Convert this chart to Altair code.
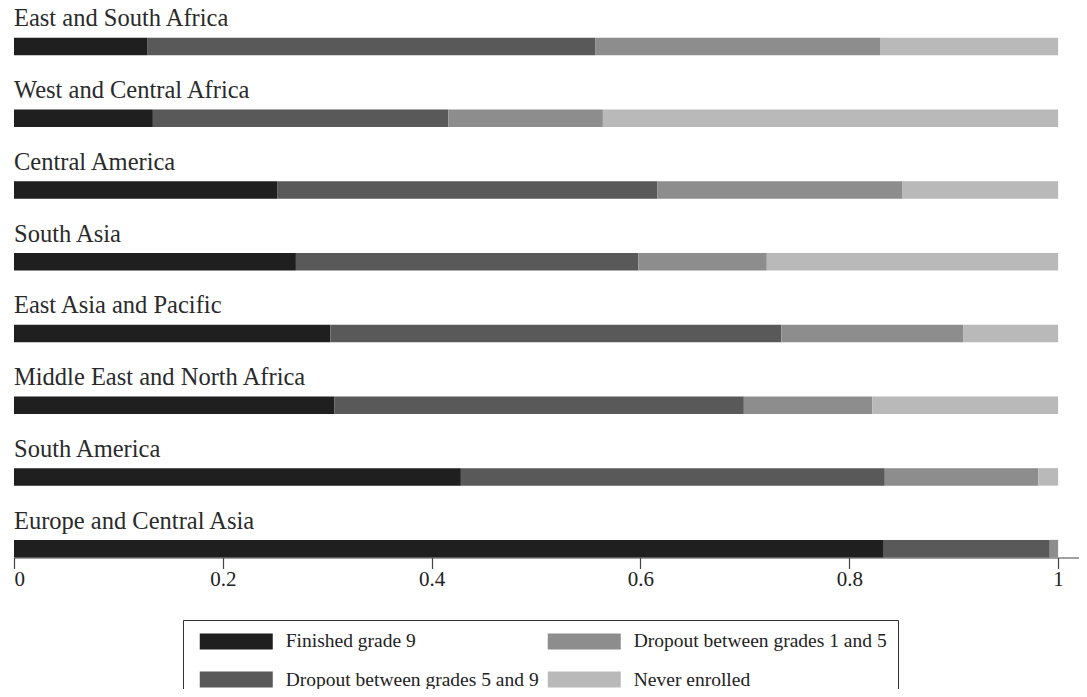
import altair as alt
import pandas as pd

regions = [
    "East and South Africa",
    "West and Central Africa",
    "Central America",
    "South Asia",
    "East Asia and Pacific",
    "Middle East and North Africa",
    "South America",
    "Europe and Central Asia",
]
finished_grade9 = [0.128, 0.133, 0.252, 0.270, 0.303, 0.307, 0.428, 0.833]
dropout_5_9 = [0.429, 0.283, 0.364, 0.328, 0.432, 0.392, 0.406, 0.159]
dropout_1_5 = [0.273, 0.148, 0.235, 0.123, 0.174, 0.123, 0.147, 0.008]
never_enrolled = [0.170, 0.436, 0.149, 0.279, 0.091, 0.178, 0.019, 0.000]

# stacking order (left to right); legend fills column by column in this order
categories = [
    "Finished grade 9",
    "Dropout between grades 5 and 9",
    "Dropout between grades 1 and 5",
    "Never enrolled",
]
colors = ["#1f1f1f", "#595959", "#8d8d8d", "#b9b9b9"]
tick_values = [0, 0.2, 0.4, 0.6, 0.8, 1]

series = [finished_grade9, dropout_5_9, dropout_1_5, never_enrolled]
rows = []
for ci, (cat, vals) in enumerate(zip(categories, series)):
    for r, v in zip(regions, vals):
        rows.append({"region": r, "category": cat, "share": v, "ord": ci})
df = pd.DataFrame(rows)
labels_df = pd.DataFrame({"region": regions})

FONT = "Liberation Serif"

band = alt.Scale(paddingInner=0, paddingOuter=0)

bars = alt.Chart(df).mark_bar(size=17.5).encode(
    x=alt.X(
        "share:Q",
        stack="zero",
        scale=alt.Scale(domain=[0, 1.02], nice=False, zero=True),
        axis=alt.Axis(
            values=tick_values,
            format="~g",
            title=None,
            grid=False,
            offset=-27,
            tickSize=11,
            labelPadding=0,
            labelFont=FONT,
            labelFontSize=21,
            labelColor="#222222",
            domainColor="#444444",
            tickColor="#444444",
            domainWidth=1.2,
            tickWidth=1.2,
        ),
    ),
    y=alt.Y("region:N", sort=regions, axis=None, scale=band),
    color=alt.Color(
        "category:N",
        scale=alt.Scale(domain=categories, range=colors),
        legend=alt.Legend(
            title=None,
            orient="none",
            legendX=169,
            legendY=609.5,
            columns=2,
            columnPadding=3,
            rowPadding=17.5,
            padding=11.25,
            symbolType="M-0.53,-1H8.595V1H-0.53Z",
            symbolSize=256,
            symbolStrokeWidth=0,
            symbolOpacity=1,
            labelOffset=72,
            labelFont=FONT,
            labelFontSize=19.5,
            labelColor="#222222",
            labelLimit=400,
            strokeColor="#333333",
            fillColor="white",
        ),
    ),
    order=alt.Order("ord:Q", sort="ascending"),
)

texts = alt.Chart(labels_df).mark_text(
    align="left",
    baseline="alphabetic",
    dy=-20,
    font=FONT,
    fontSize=24.5,
    color="#2a2a2a",
).encode(
    x=alt.value(0),
    y=alt.Y("region:N", sort=regions, axis=None, scale=band),
    text="region:N",
)

chart = alt.layer(bars, texts).properties(
    width=1065,
    height=574,
    autosize=alt.AutoSizeParams(type="none"),
    padding={"left": 6, "top": 2.5, "right": 0, "bottom": 104.5},
    background="white",
).configure_view(stroke=None)

chart.save("out.html", embed_options={"renderer": "svg", "actions": False})
